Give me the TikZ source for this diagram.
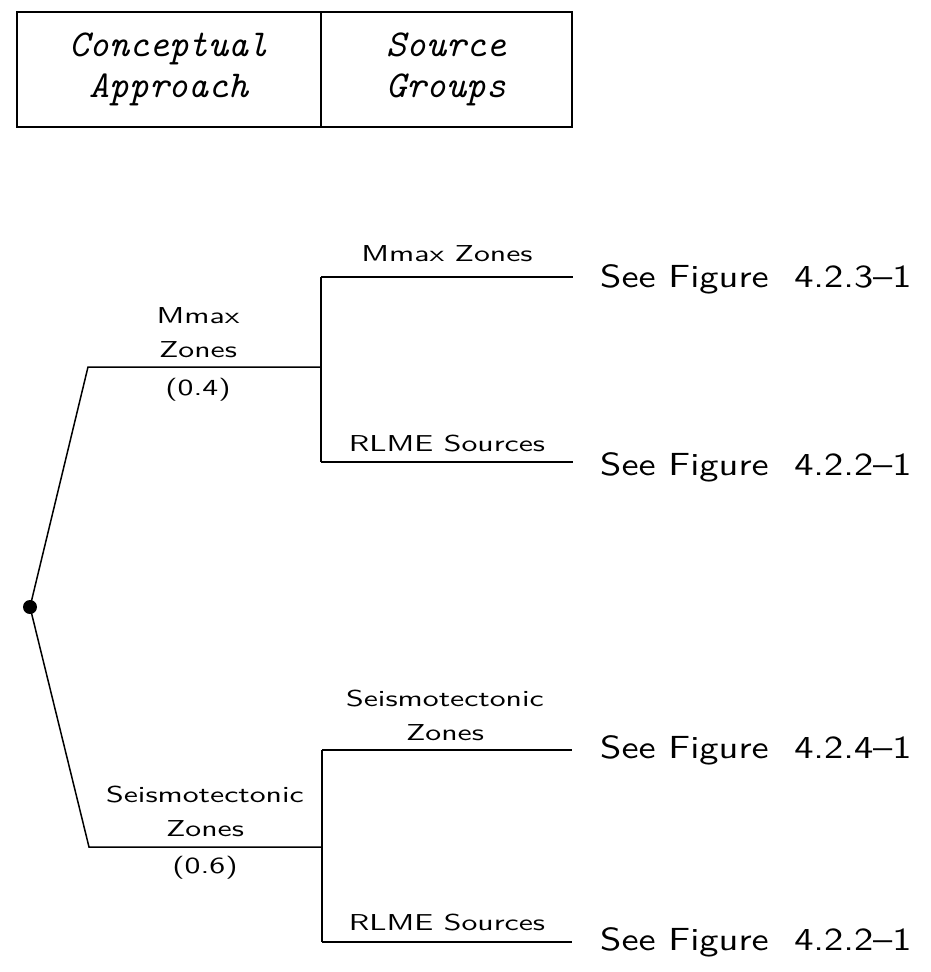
\documentclass[tikz,border=0pt]{standalone}
\usepackage{fontspec}
\newfontfamily\lblfont[FakeStretch=1.38]{lmsans10-regular.otf}
\newfontfamily\reffont[FakeStretch=1.2]{lmsans10-regular.otf}
\usetikzlibrary{positioning,calc}

\begin{document}
\begin{tikzpicture}[
  x=1pt, y=-1pt,
  hd/.style={draw, line width=1.5pt, minimum height=115pt, align=center,
    inner sep=0pt, font=\ttfamily\itshape\fontsize{38}{41}\selectfont},
  lbl/.style={align=center, inner sep=0pt, font=\lblfont\fontsize{23}{34}\selectfont},
  ref/.style={anchor=west, inner sep=0pt, font=\reffont\fontsize{32}{36}\selectfont},
  br/.style={line width=1.5pt},
  dot/.style={circle, fill, inner sep=0pt, minimum size=14pt}
]
\useasboundingbox (0,0) rectangle (931,972);
\node[hd, minimum width=304pt] (ca) at (169,69.5) {Conceptual\\Approach};
\node[hd, minimum width=251pt] (sg) at (446.5,69.5) {Source\\Groups};

\node[dot] (root) at (30,607) {};
\coordinate (ka) at (88,367);
\coordinate (ja) at (321,367);
\coordinate (ja1) at (321,277);
\coordinate (ja2) at (321,462);
\coordinate (kb) at (89,847);
\coordinate (jb) at (322,847);
\coordinate (jb1) at (322,750);
\coordinate (jb2) at (322,942);

\node[ref] (fa1) at (600,279) {See Figure \ 4.2.3\textendash1};
\node[ref] (fa2) at (600,467) {See Figure \ 4.2.2\textendash1};
\node[ref] (fb1) at (600,750) {See Figure \ 4.2.4\textendash1};
\node[ref] (fb2) at (600,942) {See Figure \ 4.2.2\textendash1};

\draw[br] (root.center) -- (ka) -- (ja);
\draw[br] (root.center) -- (kb) -- (jb);
\draw[br] (ja1) -- (ja2);
\draw[br] (jb1) -- (jb2);
\draw[br] (ja1) -- ($(fa1.west)+(-27,-2)$);
\draw[br] (ja2) -- ($(fa2.west)+(-27,-5)$);
\draw[br] (jb1) -- ($(fb1.west)+(-28,0)$);
\draw[br] (jb2) -- ($(fb2.west)+(-28,0)$);

\node[lbl] (la) at (198,333) {Mmax\\Zones};
\node[lbl] (pa) at (198,390) {(0.4)};
\node[lbl] (la1) at (447,254) {Mmax Zones};
\node[lbl] (la2) at (447,444) {RLME Sources};
\node[lbl] (lb) at (205,811) {Seismotectonic\\Zones};
\node[lbl] (pb) at (205,868) {(0.6)};
\node[lbl] (lb1) at (445,715) {Seismotectonic\\Zones};
\node[lbl] (lb2) at (447,923) {RLME Sources};
\end{tikzpicture}
\end{document}
